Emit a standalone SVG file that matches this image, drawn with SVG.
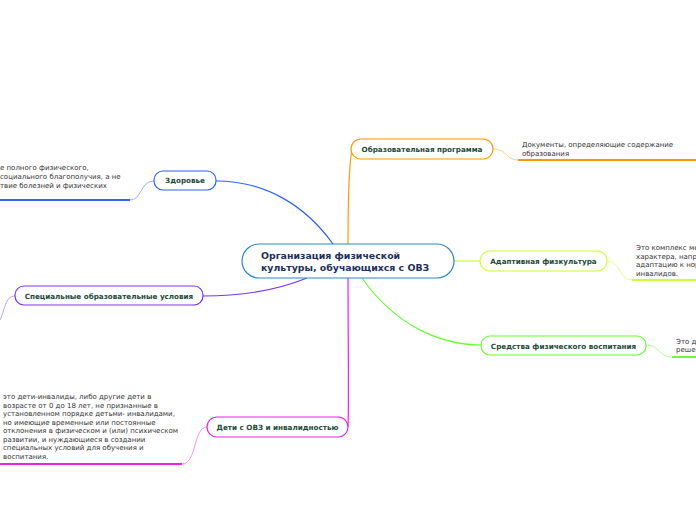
<svg xmlns="http://www.w3.org/2000/svg" width="696" height="520" viewBox="0 0 696 520">
<style>
.n{fill:#fff;stroke-width:1.2}
.t{font-family:"DejaVu Sans",Verdana,sans-serif;font-size:7.2px;font-weight:bold;fill:#1c4a38;text-anchor:middle}
.c{font-family:"DejaVu Sans",Verdana,sans-serif;font-size:9.4px;font-weight:bold;fill:#1d2f5c}
.d{font-family:"DejaVu Sans",Verdana,sans-serif;font-size:7px;fill:#333}
.l{fill:none;stroke-width:1.2}
.s{fill:none;stroke-width:0.8}
.b{fill:none;stroke-width:2}
</style>
<g id="connectors">
<path class="l" stroke="#2f62ff" d="M333,244 C305,205 265,181 216,181"/>
<path class="l" stroke="#ff9900" d="M348,244 C348,200 349,165 352,149"/>
<path class="l" stroke="#ccff33" d="M454,261 L480,261"/>
<path class="l" stroke="#66ff33" d="M362,278 C395,325 440,345 481,345"/>
<path class="l" stroke="#7a33ff" d="M307,278 C280,289 245,296 203,296"/>
<path class="l" stroke="#ee22ee" d="M348,278 C348,340 349,400 348,427"/>
<path class="s" stroke="#7fa0ff" d="M154,181 C140,181 142,200 130,200"/>
<path class="b" stroke="#2f62ff" d="M130,200 L0,200"/>
<path class="s" stroke="#ffc266" d="M493,149 C508,149 505,160 518,160"/>
<path class="b" stroke="#ff9900" d="M518,160 L696,160"/>
<path class="s" stroke="#ddff77" d="M607,261 C622,261 618,280 632,280"/>
<path class="b" stroke="#ccff33" d="M632,280 L696,280"/>
<path class="s" stroke="#99ff77" d="M646,345 C660,345 658,357 672,357"/>
<path class="b" stroke="#66ff33" d="M672,357 L696,357"/>
<path class="s" stroke="#aa88ff" d="M15,296 C5,296 5,310 0,320"/>
<path class="s" stroke="#f077f0" d="M207,427 C193,427 197,464 182,464"/>
<path class="b" stroke="#ee22ee" d="M182,464 L0,464"/>
</g>
<g id="center">
<rect class="n" x="242" y="244" width="212" height="34" rx="17" stroke="#2a8ad0"/>
<text class="c" x="261" y="259">Организация физической</text>
<text class="c" x="261" y="271">культуры, обучающихся с ОВЗ</text>
</g>
<g id="zdorovie">
<rect class="n" x="154" y="171" width="62" height="19" rx="9" stroke="#2f62ff"/>
<text class="t" x="185" y="183">Здоровье</text>
<text class="d" x="0" y="170">е полного физического,</text>
<text class="d" x="0" y="179">социального благополучия, а не</text>
<text class="d" x="0" y="188">твие болезней и физических</text>
</g>
<g id="obrprog">
<rect class="n" x="351" y="139" width="142" height="20" rx="10" stroke="#ff9900"/>
<text class="t" x="422" y="152">Образовательная программа</text>
<text class="d" x="522" y="147">Документы, определяющие содержание</text>
<text class="d" x="522" y="156">образования</text>
</g>
<g id="adapt">
<rect class="n" x="480" y="251" width="127" height="20" rx="10" stroke="#ccff33"/>
<text class="t" x="543.5" y="264">Адаптивная физкультура</text>
<text class="d" x="636" y="250">Это комплекс ме</text>
<text class="d" x="636" y="259">характера, напр</text>
<text class="d" x="636" y="267">адаптацию к нор</text>
<text class="d" x="636" y="276">инвалидов.</text>
</g>
<g id="sredstva">
<rect class="n" x="481" y="336" width="165" height="19" rx="9" stroke="#66ff33"/>
<text class="t" x="563.5" y="349">Средства физического воспитания</text>
<text class="d" x="676" y="344">Это д</text>
<text class="d" x="676" y="352">решен</text>
</g>
<g id="spec">
<rect class="n" x="15" y="286" width="188" height="19" rx="9" stroke="#7a33ff"/>
<text class="t" x="109" y="298.5">Специальные образовательные условия</text>
</g>
<g id="deti">
<rect class="n" x="207" y="417" width="141" height="20" rx="10" stroke="#ee22ee"/>
<text class="t" x="277.5" y="430">Дети с ОВЗ и инвалидностью</text>
<text class="d" x="3" y="399">это дети-инвалиды, либо другие дети в</text>
<text class="d" x="3" y="407.5">возрасте от 0 до 18 лет, не признанные в</text>
<text class="d" x="3" y="416">установленном порядке детьми- инвалидами,</text>
<text class="d" x="3" y="424.5">но имеющие временные или постоянные</text>
<text class="d" x="3" y="433">отклонения в физическом и (или) психическом</text>
<text class="d" x="3" y="441.5">развитии, и нуждающиеся в создании</text>
<text class="d" x="3" y="450">специальных условий для обучения и</text>
<text class="d" x="3" y="458.5">воспитания.</text>
</g>
</svg>
